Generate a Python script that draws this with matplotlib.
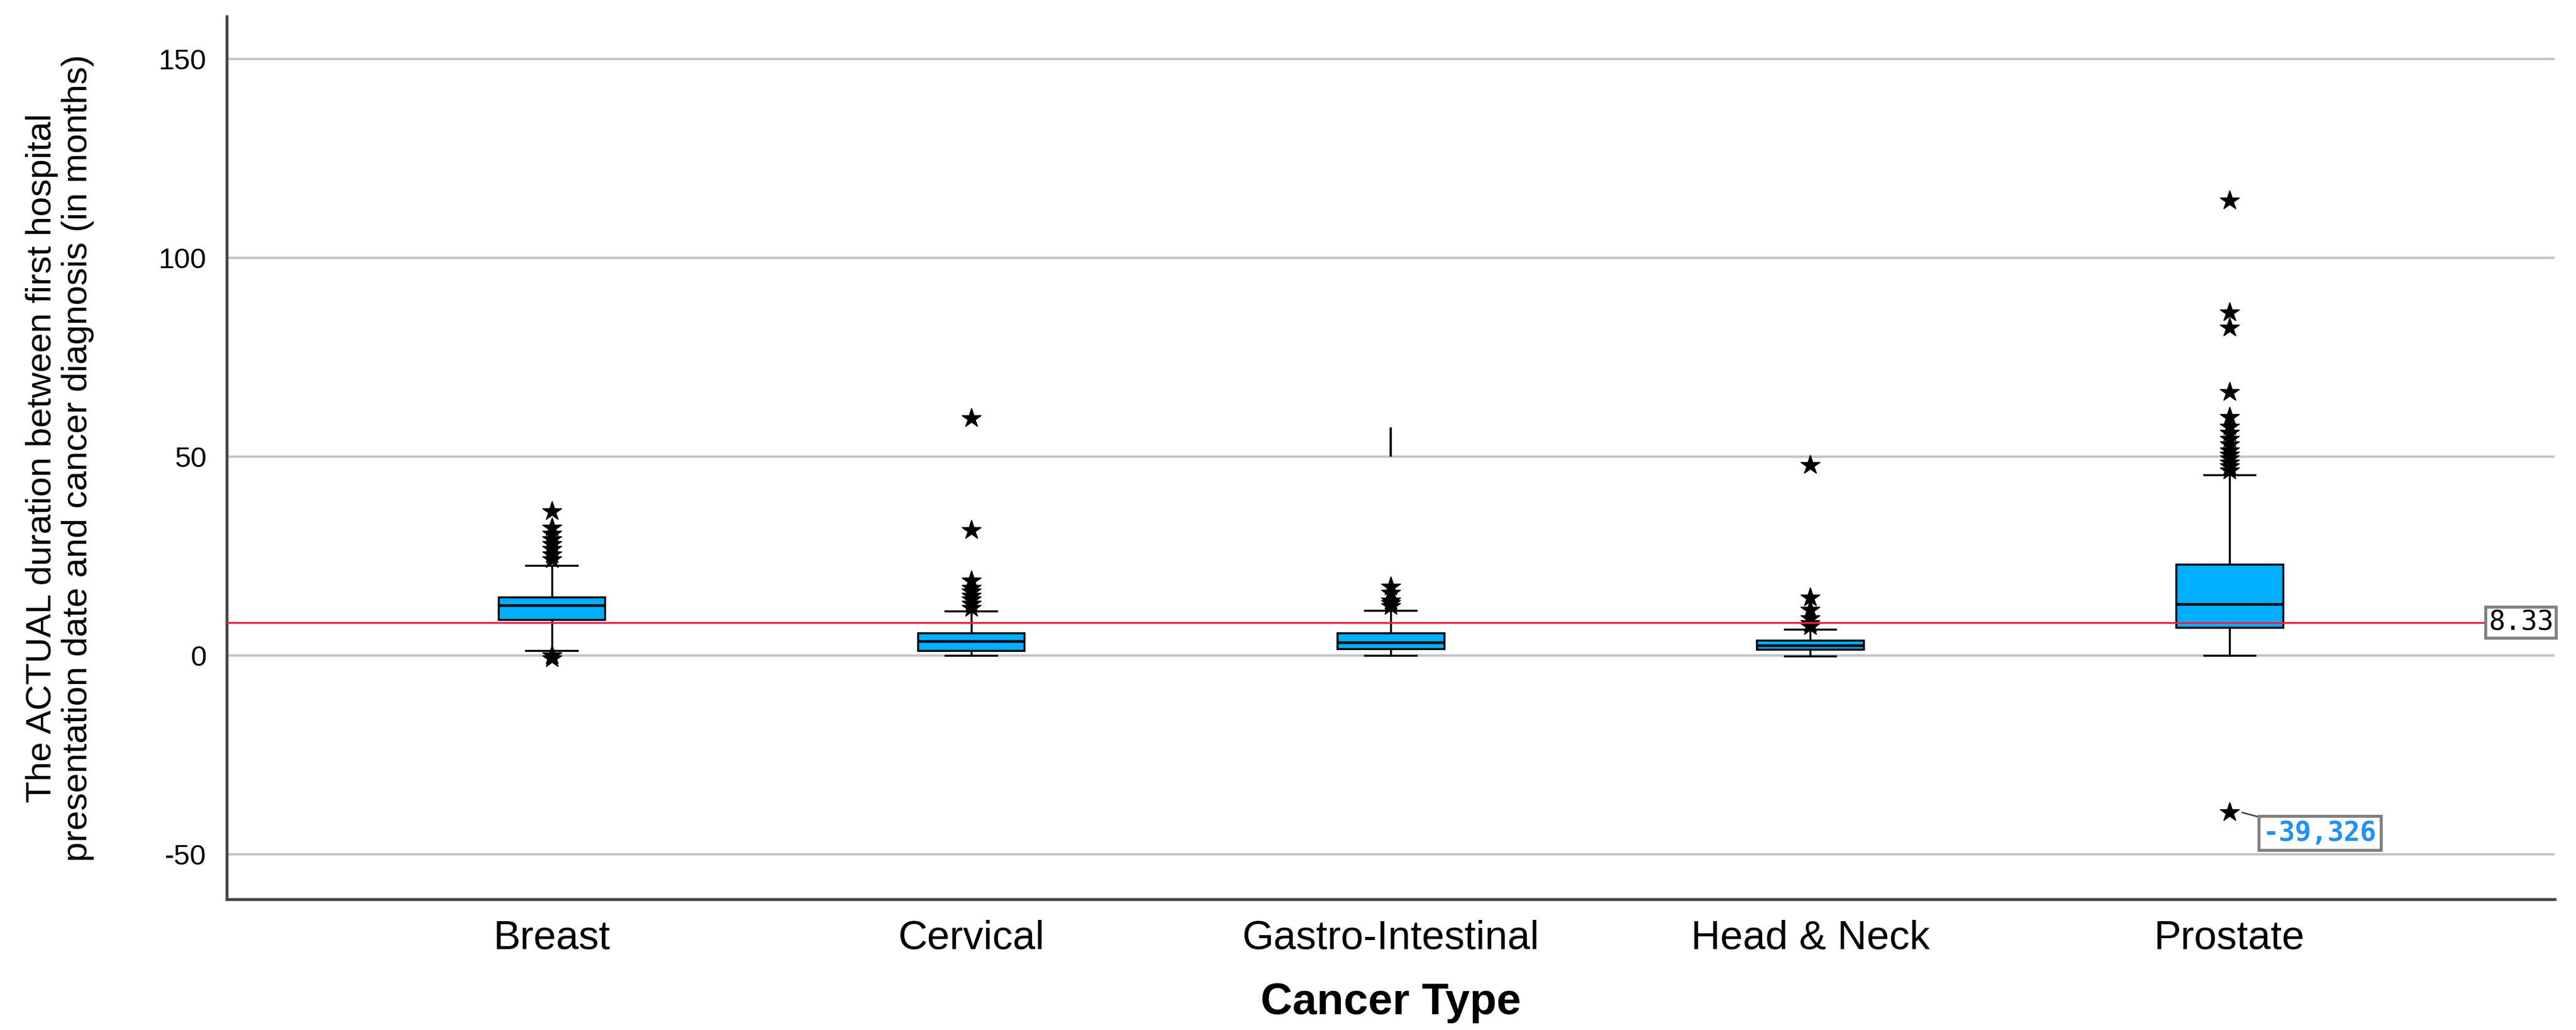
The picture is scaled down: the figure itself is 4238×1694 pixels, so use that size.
import matplotlib
matplotlib.use('Agg')
import matplotlib.pyplot as plt
import matplotlib.transforms as mtransforms

plt.rcParams['font.family'] = ['Liberation Sans', 'DejaVu Sans']
plt.rcParams['axes.unicode_minus'] = False

# data (months)
categories = ['Breast', 'Cervical', 'Gastro-Intestinal', 'Head & Neck', 'Prostate']
q1 = [9.0, 1.2, 1.7, 1.5, 7.1]
medians = [12.5, 3.5, 3.2, 2.5, 12.9]
q3 = [14.7, 5.6, 5.6, 3.8, 23.0]
whisker_low = [1.2, 0.0, 0.0, -0.2, 0.0]
whisker_high = [22.6, 11.1, 11.3, 6.6, 45.4]
outliers = [
    [24.2, 25.4, 26.8, 28.0, 29.2, 30.6, 32.1, 36.3, 0.0, -0.8],
    [12.0, 13.0, 14.0, 15.0, 16.0, 17.0, 18.8, 31.5, 59.6],
    [12.4, 13.2, 13.8, 15.7, 17.3],
    [7.3, 8.1, 9.4, 11.4, 14.5, 47.9],
    [46.5, 47.5, 48.5, 49.5, 50.5, 51.5, 53.0, 54.5, 56.0, 57.5, 59.9,
     66.2, 82.4, 86.3, 114.4, -39.5],
]
# odd vertical stroke above the Gastro-Intestinal box
stray_cat = 2
stray_range = (50.0, 57.3)

reference_value = 8.33
labelled_cat = 4
labelled_value = -39.5
labelled_text = '-39,326'

yticks = [-50, 0, 50, 100, 150]

fig = plt.figure(figsize=(42.38, 16.94), dpi=100)
ax = fig.add_axes([0.088, 0.127, 0.9037, 0.857])

stats = []
for i, name in enumerate(categories):
    stats.append({'label': name, 'med': medians[i], 'q1': q1[i], 'q3': q3[i],
                  'whislo': whisker_low[i], 'whishi': whisker_high[i],
                  'fliers': outliers[i]})

pos = list(range(len(categories)))
ax.bxp(stats, positions=pos, widths=0.254, capwidths=0.123,
       patch_artist=True, manage_ticks=False,
       boxprops=dict(facecolor='#00b0ff', edgecolor='black', linewidth=2.4),
       medianprops=dict(color='black', linewidth=3.2),
       whiskerprops=dict(color='black', linewidth=2.4),
       capprops=dict(color='black', linewidth=2.4),
       flierprops=dict(marker='*', markersize=24, markerfacecolor='black',
                       markeredgecolor='black', linestyle='none'))

ax.vlines(pos[stray_cat], stray_range[0], stray_range[1], color='black', lw=2.6, zorder=3)

ax.axhline(reference_value, color='#f0204a', lw=2.2, zorder=5)
trans = mtransforms.blended_transform_factory(ax.transAxes, ax.transData)
ax.text(0.9995, reference_value, f'{reference_value:.2f}', transform=trans,
        ha='right', va='center', fontsize=32, family='DejaVu Sans Mono', zorder=6,
        bbox=dict(boxstyle='square,pad=0.1', facecolor='white', edgecolor='#808080', lw=3.5))

ax.annotate(labelled_text, xy=(pos[labelled_cat] + 0.03, labelled_value),
            xytext=(pos[labelled_cat] + 0.215, labelled_value - 5.2),
            ha='center', va='center', fontsize=32, fontweight='bold', color='#1e90ff',
            family='DejaVu Sans Mono', zorder=6,
            bbox=dict(boxstyle='square,pad=0.15', facecolor='white', edgecolor='#808080', lw=3.5),
            arrowprops=dict(arrowstyle='-', color='#404040', lw=1.8, shrinkA=0, shrinkB=0))

ax.set_xlim(-0.775, 4.775)
ax.set_ylim(-61.3, 160.7)
ax.set_yticks(yticks)
ax.set_yticklabels([str(t) for t in yticks])
ax.set_xticks(pos)
ax.set_xticklabels(categories)
ax.tick_params(axis='y', length=0, pad=24, labelsize=34)
ax.tick_params(axis='x', length=0, pad=24, labelsize=48)

ax.yaxis.grid(True, color='#c4c4c4', lw=2.8)
ax.set_axisbelow(True)
for side in ['top', 'right']:
    ax.spines[side].set_visible(False)
for side in ['left', 'bottom']:
    ax.spines[side].set_color('#444444')
    ax.spines[side].set_linewidth(3.4)

ax.set_xlabel('Cancer Type', fontsize=52, fontweight='bold')
ax.xaxis.set_label_coords(0.5, -0.094)
ax.set_ylabel('The ACTUAL duration between first hospital\n'
              'presentation date and cancer diagnosis (in months)',
              fontsize=42, linespacing=1.1)
ax.yaxis.set_label_coords(-0.057, 0.5)

fig.savefig('out.png', dpi=100)
